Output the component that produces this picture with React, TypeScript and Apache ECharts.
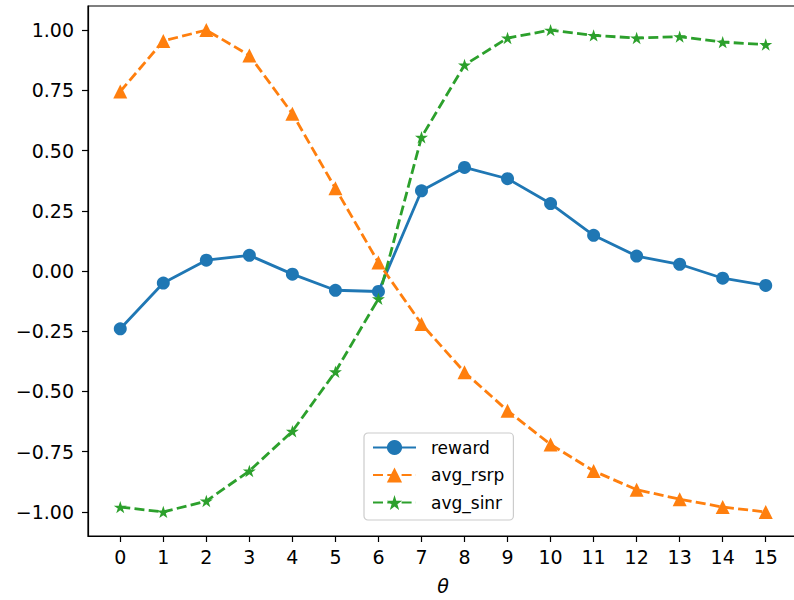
import React, { useEffect, useRef } from "react";
import * as echarts from "echarts";

const theta = [0, 1, 2, 3, 4, 5, 6, 7, 8, 9, 10, 11, 12, 13, 14, 15];
const reward = [-0.24, -0.05, 0.045, 0.065, -0.013, -0.08, -0.085, 0.333, 0.43, 0.383, 0.28, 0.148, 0.062, 0.028, -0.03, -0.06];
const avgRsrp = [0.745, 0.955, 1.0, 0.895, 0.653, 0.343, 0.035, -0.22, -0.42, -0.58, -0.72, -0.83, -0.908, -0.947, -0.98, -1.0];
const avgSinr = [-0.98, -1.0, -0.955, -0.83, -0.665, -0.418, -0.115, 0.555, 0.855, 0.967, 1.0, 0.978, 0.967, 0.973, 0.95, 0.94];
const yTicks = [-1, -0.75, -0.5, -0.25, 0, 0.25, 0.5, 0.75, 1];
const seriesNames = ["reward", "avg_rsrp", "avg_sinr"];

const STAR =
  "path://M0,-1L0.2245,-0.309L0.9511,-0.309L0.3633,0.118L0.5878,0.809L0,0.382L-0.5878,0.809L-0.3633,0.118L-0.9511,-0.309L-0.2245,-0.309Z";

const pairs = (ys: number[]) => theta.map((t, i) => [t, ys[i]]);
const fmtY = (v: number) => v.toFixed(2).replace("-", "\u2212");

export default function App() {
  const ref = useRef<HTMLDivElement>(null);
  useEffect(() => {
    if (!ref.current) return;
    const chart = echarts.init(ref.current, undefined, { renderer: "svg" });
    const font = "DejaVu Sans";
    const FS = 19;
    chart.setOption({
      animation: false,
      backgroundColor: "#ffffff",
      grid: {
        left: 88,
        right: 2,
        top: 6,
        bottom: 62,
        show: true,
        borderColor: "#000",
        borderWidth: 1.2,
        backgroundColor: "transparent",
      },
      xAxis: {
        type: "value",
        min: -0.75,
        max: 15.75,
        name: "θ",
        nameLocation: "middle",
        nameGap: 40,
        nameTextStyle: { fontFamily: font, fontStyle: "italic", fontSize: FS, color: "#000" },
        axisLine: { show: true, onZero: false, lineStyle: { color: "#000", width: 1.2 } },
        axisTick: { show: true, length: 6, customValues: theta, lineStyle: { color: "#000", width: 1.2 } },
        axisLabel: {
          customValues: theta,
          margin: 11,
          fontFamily: font,
          fontSize: FS,
          color: "#000",
          formatter: (v: number) => String(v),
        },
        splitLine: { show: false },
      },
      yAxis: {
        type: "value",
        min: -1.1,
        max: 1.1,
        axisLine: { show: true, onZero: false, lineStyle: { color: "#000", width: 1.2 } },
        axisTick: { show: true, length: 6, customValues: yTicks, lineStyle: { color: "#000", width: 1.2 } },
        axisLabel: {
          customValues: yTicks,
          margin: 14,
          fontFamily: font,
          fontSize: FS,
          color: "#000",
          formatter: (v: number) => fmtY(v),
        },
        splitLine: { show: false },
      },
      legend: {
        orient: "vertical",
        left: 364,
        top: 433,
        data: seriesNames,
        itemWidth: 43,
        itemHeight: 19,
        itemGap: 10.5,
        padding: [6, 9, 9, 8],
        backgroundColor: "rgba(255,255,255,0.8)",
        borderColor: "#cccccc",
        borderWidth: 1.2,
        borderRadius: 4,
        textStyle: { fontFamily: font, fontSize: 17, color: "#000", padding: [0, 0, 0, 10] },
      },
      series: [
        {
          name: seriesNames[0],
          type: "line",
          data: pairs(reward),
          symbol: "circle",
          symbolSize: 13,
          color: "#1f77b4",
          lineStyle: { width: 2.8, color: "#1f77b4" },
          itemStyle: { color: "#1f77b4" },
        },
        {
          name: seriesNames[1],
          type: "line",
          data: pairs(avgRsrp),
          symbol: "triangle",
          symbolSize: 14,
          color: "#ff7f0e",
          lineStyle: { width: 2.8, color: "#ff7f0e", type: [10, 4.3] },
          itemStyle: { color: "#ff7f0e" },
        },
        {
          name: seriesNames[2],
          type: "line",
          data: pairs(avgSinr),
          symbol: STAR,
          symbolSize: [13, 12.4],
          color: "#2ca02c",
          lineStyle: { width: 2.8, color: "#2ca02c", type: [10, 4.3] },
          itemStyle: { color: "#2ca02c" },
        },
      ],
    });
    return () => chart.dispose();
  }, []);
  return (
    <div style={{ position: "absolute", left: 0, top: 0, width: 794, height: 600, overflow: "hidden", background: "#fff" }}>
      <div ref={ref} style={{ width: 800, height: 600 }} />
    </div>
  );
}
